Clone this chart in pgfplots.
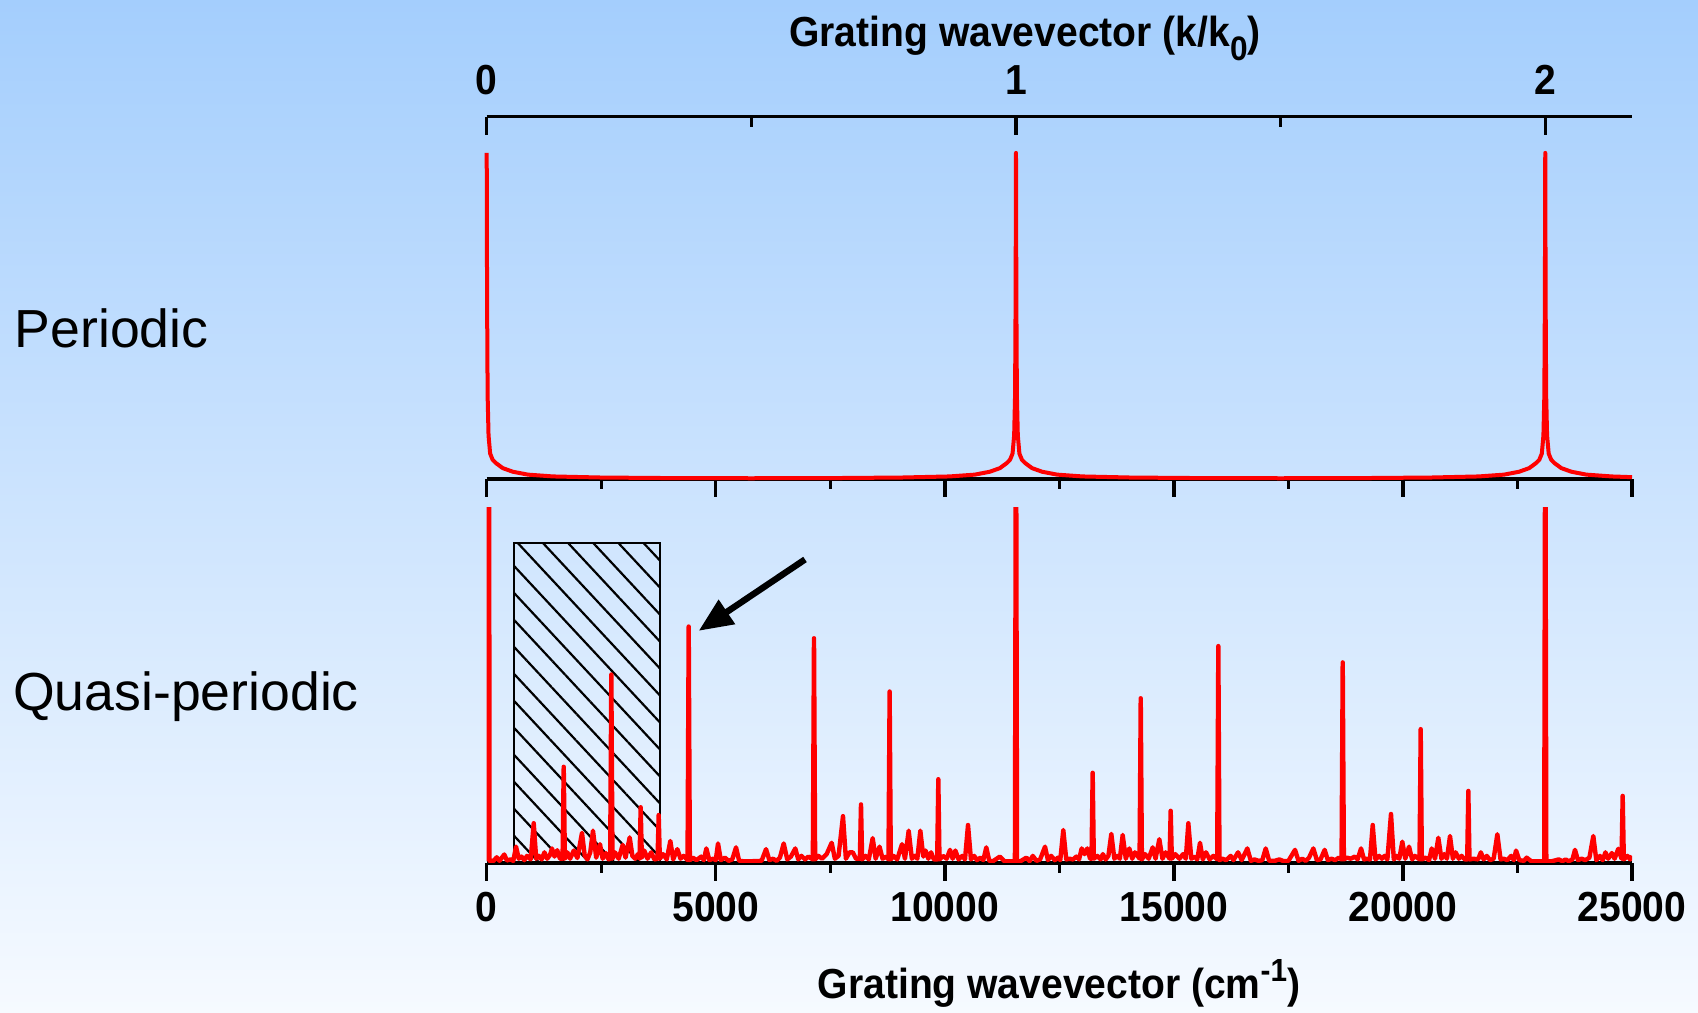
\documentclass[border=0pt]{standalone}
\usepackage{pgfplots}
\pgfplotsset{compat=1.18}
\usepackage{pgfplotstable}
\usepackage{fontspec}
\setmainfont{Liberation Sans}
\newfontfamily\condbold{Liberation Sans}[FakeStretch=0.93]
\usetikzlibrary{patterns.meta,arrows.meta}

\definecolor{bgtop}{RGB}{164,206,253}
\definecolor{bgbottom}{RGB}{246,250,255}

% Diffraction spectrum of the periodic grating (normalised)
\pgfplotstableread{
x y
0 0.90
8 0.50
20 0.23
40 0.12
75 0.07
130 0.053
200 0.044
350 0.030
570 0.020
900 0.012
1450 0.007
2500 0.004
4000 0.0025
5775 0.002
7553 0.0025
9053 0.004
10103 0.007
10653 0.012
10983 0.020
11203 0.030
11353 0.044
11423 0.053
11478 0.070
11513 0.120
11533 0.230
11545 0.500
11553 0.900
11561 0.500
11573 0.230
11593 0.120
11628 0.070
11683 0.053
11753 0.044
11903 0.030
12123 0.020
12453 0.012
13003 0.007
14053 0.004
15553 0.0025
17330 0.002
19106 0.0025
20606 0.004
21656 0.007
22206 0.012
22536 0.020
22756 0.030
22906 0.044
22976 0.053
23031 0.070
23066 0.120
23086 0.230
23098 0.500
23106 0.900
23114 0.500
23126 0.230
23146 0.120
23181 0.070
23236 0.053
23306 0.044
23456 0.030
23676 0.020
24006 0.012
24556 0.007
25000 0.005
}\periodic

% Diffraction spectrum of the quasi-periodic grating (normalised)
\pgfplotstableread{
x y
40 0.005
50 1.40
62 0.006
150 0.006
218 0.016
280 0.006
384 0.024
440 0.007
520 0.010
580 0.006
640 0.046
700 0.012
760 0.018
820 0.008
880 0.020
960 0.010
1026 0.112
1080 0.012
1140 0.020
1200 0.010
1260 0.030
1320 0.012
1380 0.022
1425 0.041
1480 0.018
1540 0.036
1600 0.012
1656 0.012
1681 0.271
1706 0.012
1760 0.030
1820 0.012
1900 0.035
1980 0.014
2080 0.085
2140 0.020
2200 0.010
2260 0.030
2320 0.091
2390 0.015
2473 0.053
2530 0.012
2600 0.028
2660 0.010
2695 0.012
2720 0.531
2745 0.012
2800 0.030
2880 0.012
2968 0.051
3030 0.015
3121 0.072
3180 0.020
3240 0.012
3300 0.025
3336 0.012
3361 0.157
3386 0.015
3440 0.035
3510 0.012
3590 0.030
3660 0.010
3729 0.012
3754 0.135
3779 0.012
3850 0.025
3930 0.010
4008 0.062
4070 0.010
4161 0.039
4230 0.012
4300 0.020
4384 0.008
4409 0.666
4434 0.008
4500 0.015
4580 0.008
4680 0.018
4740 0.008
4794 0.041
4860 0.008
4940 0.012
5000 0.008
5049 0.055
5110 0.008
5200 0.015
5280 0.006
5360 0.010
5442 0.044
5510 0.006
5600 0.005
5800 0.005
6000 0.006
6097 0.039
6170 0.008
6250 0.012
6330 0.006
6400 0.015
6483 0.055
6560 0.010
6640 0.018
6736 0.041
6800 0.010
6870 0.020
6950 0.010
7020 0.018
7119 0.010
7144 0.633
7169 0.010
7240 0.020
7320 0.012
7420 0.025
7530 0.057
7600 0.012
7680 0.020
7777 0.132
7840 0.012
7920 0.030
7990 0.030
8060 0.012
8145 0.012
8170 0.165
8195 0.010
8270 0.020
8340 0.010
8425 0.070
8490 0.012
8575 0.046
8640 0.012
8720 0.018
8770 0.010
8795 0.483
8820 0.010
8880 0.020
8960 0.010
9065 0.053
9130 0.012
9211 0.091
9280 0.012
9340 0.020
9400 0.012
9465 0.091
9530 0.018
9580 0.035
9640 0.012
9700 0.030
9760 0.010
9833 0.010
9858 0.236
9883 0.010
9960 0.020
10040 0.012
10113 0.037
10170 0.012
10230 0.035
10300 0.010
10380 0.020
10440 0.010
10506 0.107
10570 0.010
10640 0.020
10700 0.008
10780 0.015
10840 0.008
10905 0.044
10970 0.006
11050 0.005
11200 0.018
11300 0.005
11530 0.005
11553 1.40
11576 0.005
11650 0.005
11780 0.015
11850 0.005
11920 0.020
12000 0.006
12080 0.010
12187 0.046
12250 0.008
12320 0.020
12400 0.008
12470 0.015
12520 0.008
12586 0.093
12650 0.010
12720 0.012
12800 0.010
12870 0.018
12930 0.010
12987 0.041
13050 0.025
13110 0.041
13170 0.012
13202 0.012
13227 0.254
13252 0.012
13330 0.020
13400 0.010
13450 0.025
13510 0.010
13570 0.020
13634 0.082
13700 0.012
13760 0.020
13820 0.012
13882 0.079
13950 0.012
14027 0.041
14090 0.012
14150 0.030
14251 0.012
14276 0.464
14301 0.010
14370 0.025
14450 0.012
14537 0.044
14600 0.012
14682 0.067
14750 0.012
14820 0.030
14905 0.012
14930 0.147
14955 0.012
15030 0.025
15120 0.012
15200 0.025
15260 0.012
15315 0.112
15380 0.012
15450 0.018
15510 0.010
15570 0.057
15630 0.010
15700 0.030
15780 0.010
15860 0.020
15945 0.010
15970 0.611
15995 0.008
16060 0.012
16140 0.008
16240 0.020
16300 0.008
16400 0.030
16480 0.008
16603 0.041
16680 0.006
16760 0.010
16850 0.006
16930 0.008
17004 0.041
17080 0.006
17200 0.006
17300 0.010
17400 0.005
17500 0.006
17644 0.037
17720 0.006
17800 0.012
17880 0.006
17950 0.015
18044 0.041
18120 0.008
18200 0.010
18291 0.037
18360 0.008
18440 0.012
18520 0.008
18600 0.015
18660 0.010
18685 0.565
18710 0.010
18780 0.015
18860 0.012
18950 0.018
19010 0.010
19085 0.041
19150 0.010
19220 0.012
19280 0.010
19340 0.107
19400 0.010
19480 0.020
19540 0.012
19600 0.020
19660 0.010
19739 0.138
19800 0.010
19860 0.020
19920 0.012
19986 0.060
20050 0.012
20133 0.046
20200 0.010
20260 0.020
20362 0.010
20387 0.377
20412 0.010
20500 0.015
20570 0.008
20627 0.041
20700 0.012
20772 0.071
20840 0.012
20900 0.025
20960 0.012
21027 0.076
21090 0.012
21150 0.030
21220 0.012
21280 0.020
21350 0.010
21402 0.010
21427 0.203
21452 0.010
21540 0.012
21640 0.010
21700 0.030
21760 0.010
21830 0.020
21900 0.008
21980 0.012
22060 0.081
22130 0.010
22200 0.012
22280 0.008
22360 0.020
22420 0.008
22468 0.035
22540 0.008
22640 0.006
22700 0.015
22800 0.005
23083 0.005
23106 1.40
23129 0.005
23250 0.005
23400 0.010
23480 0.005
23550 0.010
23620 0.005
23700 0.010
23755 0.037
23820 0.008
23900 0.012
23980 0.008
24070 0.015
24155 0.076
24220 0.008
24300 0.020
24360 0.008
24420 0.030
24480 0.012
24560 0.028
24620 0.012
24700 0.040
24771 0.012
24796 0.189
24821 0.010
24900 0.020
24960 0.010
25000 0.020
}\quasi

\pgfplotsset{
  panel/.style={
    scale only axis, width=286.325pt, enlargelimits=false,
    ymin=0, ymax=1,
    axis y line=none,
    scaled x ticks=false, scaled y ticks=false,
    axis line style={line width=0.85pt, -},
    every tick/.append style={line width=0.85pt, black},
    major tick length=4.5pt, minor tick length=2.5pt,
    tick label style={font=\condbold\bfseries\fontsize{10.5}{12}\selectfont},
  },
  cmaxis/.style={
    panel, xmin=0, xmax=25000,
    axis x line*=bottom, tick align=outside,
    xtick={0,5000,10000,15000,20000,25000},
    minor xtick={2500,7500,12500,17500,22500},
  },
}

\begin{document}
\begin{tikzpicture}
\shade[top color=bgtop, bottom color=bgbottom] (0,0) rectangle (424.5pt,253.25pt);

% quasi-periodic spectrum (bottom panel)
\begin{axis}[cmaxis, at={(121.675pt,37.5pt)}, anchor=south west,
  height=88.75pt, clip=true,
  xticklabels={0,5000,10000,15000,20000,25000},
  xticklabel style={yshift=0.75pt}]
  \draw[line width=0.6pt, pattern={Lines[angle=-47, distance=4.6pt, line width=0.55pt]}]
    (axis cs:602,0) rectangle (axis cs:3776,0.902);
  \addplot[red, line width=1.1pt, line join=round] table[x=x, y=y] {\quasi};
  \draw[line width=1.6pt, -{Triangle[length=8.5pt, width=7pt]}]
    (axis cs:6948,0.855) -- (axis cs:4628,0.654);
\end{axis}

% periodic spectrum (top panel)
\begin{axis}[cmaxis, at={(121.675pt,133.5pt)}, anchor=south west,
  height=90.575pt, clip=false, xticklabels={}]
  \addplot[red, line width=1.0pt, line join=round] table[x=x, y=y] {\periodic};
\end{axis}

% wavevector in units of k0 (top scale)
\begin{axis}[panel, at={(121.675pt,133.5pt)}, anchor=south west,
  height=90.575pt, xmin=0, xmax=2.16394,
  axis x line*=top, tick align=inside,
  xtick={0,1,2}, minor xtick={0.5,1.5}, xticklabels={0,1,2},
  xticklabel style={yshift=1.9pt}]
  \addplot[draw=none] coordinates {(0,0)};
\end{axis}

\node[anchor=base, inner sep=0pt] at (256.25pt,241.575pt)
  {\condbold\bfseries\fontsize{10.5}{12}\selectfont Grating wavevector (k/k\raisebox{-0.32em}{\fontsize{8.5}{8.5}\selectfont 0})};
\node[anchor=base, inner sep=0pt] at (264.75pt,3.5pt)
  {\condbold\bfseries\fontsize{10.5}{12}\selectfont Grating wavevector (cm\raisebox{0.42em}{\fontsize{8}{8}\selectfont -1})};

\node[anchor=base west, inner sep=0pt] at (3.5pt,166.3pt)
  {\fontsize{13.4}{16}\selectfont Periodic};
\node[anchor=base west, inner sep=0pt] at (3.1pt,75.5pt)
  {\fontsize{13.4}{16}\selectfont Quasi-periodic};

\pgfresetboundingbox
\path (0,0) rectangle (424.5pt,253.25pt);
\end{tikzpicture}
\end{document}
